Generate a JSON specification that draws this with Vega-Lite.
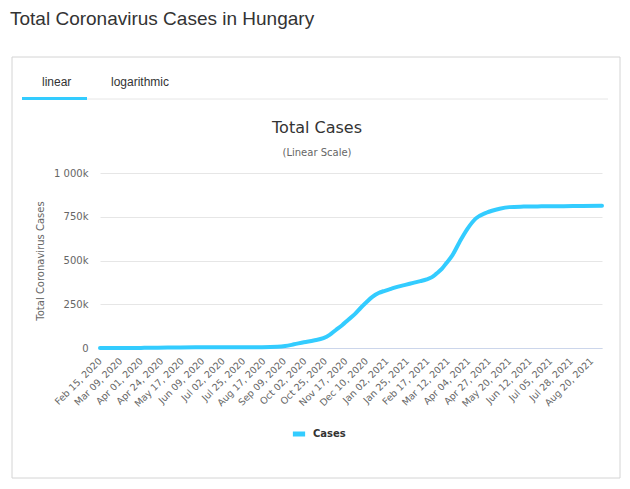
{
  "$schema": "https://vega.github.io/schema/vega-lite/v6.json",
  "autosize": "none",
  "width": 502,
  "height": 175,
  "padding": {"left": 100, "top": 173, "right": 28, "bottom": 141},
  "background": "white",
  "config": {"view": {"stroke": null}, "font": "DejaVu Sans"},
  "title": {
    "text": "Total Cases",
    "subtitle": "(Linear Scale)",
    "anchor": "middle",
    "frame": "group",
    "dx": -34,
    "dy": 164,
    "offset": 16,
    "font": "DejaVu Sans",
    "fontSize": 16,
    "fontWeight": "normal",
    "color": "#333333",
    "subtitleFont": "DejaVu Sans",
    "subtitleFontSize": 10,
    "subtitleColor": "#666666",
    "subtitlePadding": 12
  },
  "datasets": {
    "cases": [
      {"date": "2020-02-15", "cases": 0},
      {"date": "2020-03-04", "cases": 2},
      {"date": "2020-03-20", "cases": 85},
      {"date": "2020-04-01", "cases": 585},
      {"date": "2020-04-15", "cases": 1652},
      {"date": "2020-05-01", "cases": 2863},
      {"date": "2020-05-15", "cases": 3380},
      {"date": "2020-06-01", "cases": 3876},
      {"date": "2020-07-01", "cases": 4166},
      {"date": "2020-08-01", "cases": 4526},
      {"date": "2020-08-15", "cases": 4853},
      {"date": "2020-09-01", "cases": 7000},
      {"date": "2020-09-10", "cases": 11000},
      {"date": "2020-09-20", "cases": 21000},
      {"date": "2020-10-01", "cases": 33000},
      {"date": "2020-10-12", "cases": 43000},
      {"date": "2020-10-23", "cases": 56000},
      {"date": "2020-10-30", "cases": 75000},
      {"date": "2020-11-06", "cases": 103000},
      {"date": "2020-11-13", "cases": 130000},
      {"date": "2020-11-20", "cases": 162000},
      {"date": "2020-11-27", "cases": 192000},
      {"date": "2020-12-04", "cases": 230000},
      {"date": "2020-12-10", "cases": 260000},
      {"date": "2020-12-17", "cases": 292000},
      {"date": "2020-12-24", "cases": 314000},
      {"date": "2020-12-31", "cases": 327000},
      {"date": "2021-01-07", "cases": 338000},
      {"date": "2021-01-15", "cases": 351000},
      {"date": "2021-01-23", "cases": 361000},
      {"date": "2021-02-01", "cases": 372000},
      {"date": "2021-02-09", "cases": 382000},
      {"date": "2021-02-16", "cases": 392000},
      {"date": "2021-02-22", "cases": 405000},
      {"date": "2021-02-27", "cases": 425000},
      {"date": "2021-03-05", "cases": 452000},
      {"date": "2021-03-10", "cases": 484000},
      {"date": "2021-03-17", "cases": 531000},
      {"date": "2021-03-25", "cases": 606000},
      {"date": "2021-04-03", "cases": 682000},
      {"date": "2021-04-12", "cases": 739000},
      {"date": "2021-04-24", "cases": 773000},
      {"date": "2021-05-09", "cases": 796000},
      {"date": "2021-05-20", "cases": 805000},
      {"date": "2021-06-05", "cases": 808000},
      {"date": "2021-06-25", "cases": 809500},
      {"date": "2021-07-20", "cases": 810500},
      {"date": "2021-08-10", "cases": 811500},
      {"date": "2021-09-01", "cases": 812500}
    ],
    "heading": [{"t": "Total Coronavirus Cases in Hungary"}]
  },
  "layer": [
    {
      "data": {"name": "heading"},
      "mark": {"type": "rect", "fill": null, "stroke": "#d4d4d4", "strokeWidth": 1},
      "encoding": {"x": {"value": -88}, "x2": {"value": 520}, "y": {"value": -116}, "y2": {"value": 305}}
    },
    {
      "data": {"name": "heading"},
      "mark": {"type": "text", "align": "left", "baseline": "middle", "font": "Liberation Sans", "fontSize": 19, "color": "#333333"},
      "encoding": {"text": {"field": "t"}, "x": {"value": -90}, "y": {"value": -154}}
    },
    {
      "data": {"name": "heading"},
      "mark": {"type": "rule", "stroke": "#e6e6e6", "strokeWidth": 1},
      "encoding": {"x": {"value": -78}, "x2": {"value": 508}, "y": {"value": -74}}
    },
    {
      "data": {"name": "heading"},
      "mark": {"type": "rule", "stroke": "#33ccff", "strokeWidth": 3},
      "encoding": {"x": {"value": -78}, "x2": {"value": -13}, "y": {"value": -74.5}}
    },
    {
      "data": {"values": [{"t": "linear"}]},
      "mark": {"type": "text", "align": "left", "baseline": "middle", "font": "Liberation Sans", "fontSize": 12, "color": "#333333"},
      "encoding": {"text": {"field": "t"}, "x": {"value": -58}, "y": {"value": -91}}
    },
    {
      "data": {"values": [{"t": "logarithmic"}]},
      "mark": {"type": "text", "align": "left", "baseline": "middle", "font": "Liberation Sans", "fontSize": 12, "color": "#333333"},
      "encoding": {"text": {"field": "t"}, "x": {"value": 11}, "y": {"value": -91}}
    },
    {
      "data": {"name": "cases"},
      "mark": {"type": "line", "strokeWidth": 4, "interpolate": "monotone", "strokeCap": "round", "strokeJoin": "round"},
      "encoding": {
        "x": {
          "field": "date",
          "type": "temporal",
          "scale": {"type": "utc", "domain": [{"year": 2020, "month": 2, "date": 15, "utc": true}, {"year": 2021, "month": 9, "date": 1, "utc": true}], "nice": false},
          "axis": {
            "title": null,
            "values": [
              {"year": 2020, "month": 2, "date": 15, "utc": true},
              {"year": 2020, "month": 3, "date": 9, "utc": true},
              {"year": 2020, "month": 4, "date": 1, "utc": true},
              {"year": 2020, "month": 4, "date": 24, "utc": true},
              {"year": 2020, "month": 5, "date": 17, "utc": true},
              {"year": 2020, "month": 6, "date": 9, "utc": true},
              {"year": 2020, "month": 7, "date": 2, "utc": true},
              {"year": 2020, "month": 7, "date": 25, "utc": true},
              {"year": 2020, "month": 8, "date": 17, "utc": true},
              {"year": 2020, "month": 9, "date": 9, "utc": true},
              {"year": 2020, "month": 10, "date": 2, "utc": true},
              {"year": 2020, "month": 10, "date": 25, "utc": true},
              {"year": 2020, "month": 11, "date": 17, "utc": true},
              {"year": 2020, "month": 12, "date": 10, "utc": true},
              {"year": 2021, "month": 1, "date": 2, "utc": true},
              {"year": 2021, "month": 1, "date": 25, "utc": true},
              {"year": 2021, "month": 2, "date": 17, "utc": true},
              {"year": 2021, "month": 3, "date": 12, "utc": true},
              {"year": 2021, "month": 4, "date": 4, "utc": true},
              {"year": 2021, "month": 4, "date": 27, "utc": true},
              {"year": 2021, "month": 5, "date": 20, "utc": true},
              {"year": 2021, "month": 6, "date": 12, "utc": true},
              {"year": 2021, "month": 7, "date": 5, "utc": true},
              {"year": 2021, "month": 7, "date": 28, "utc": true},
              {"year": 2021, "month": 8, "date": 20, "utc": true}
            ],
            "format": "%b %d, %Y",
            "labelAngle": -45,
            "labelAlign": "right",
            "labelBaseline": "middle",
            "labelFontSize": 9.5,
            "labelColor": "#666666",
            "labelPadding": 11,
            "labelOverlap": false,
            "labelFlush": false,
            "labelBound": false,
            "ticks": false,
            "grid": false,
            "domainColor": "#ccd6eb",
            "domainWidth": 1
          }
        },
        "y": {
          "field": "cases",
          "type": "quantitative",
          "scale": {"domain": [0, 1000000], "nice": false},
          "axis": {
            "values": [0, 250000, 500000, 750000, 1000000],
            "labelExpr": "datum.value == 0 ? '0' : datum.value == 1000000 ? '1 000k' : format(datum.value / 1000, 'd') + 'k'",
            "labelFontSize": 10,
            "labelColor": "#666666",
            "labelPadding": 12,
            "ticks": false,
            "domain": false,
            "gridColor": "#e6e6e6",
            "title": "Total Coronavirus Cases",
            "titleFontSize": 10,
            "titleFontWeight": "normal",
            "titleColor": "#666666",
            "titleX": -60,
            "titleY": 87.5,
            "titleAngle": -90,
            "titleAlign": "center",
            "titleBaseline": "middle"
          }
        },
        "color": {
          "datum": "Cases",
          "type": "nominal",
          "scale": {"range": ["#33ccff"]},
          "legend": {
            "title": null,
            "orient": "none",
            "legendX": 190,
            "legendY": 252,
            "symbolType": "stroke",
            "symbolStrokeWidth": 5,
            "symbolSize": 150,
            "labelFontSize": 10,
            "labelFontWeight": "bold",
            "labelColor": "#333333",
            "labelOffset": 5
          }
        }
      }
    }
  ]
}
